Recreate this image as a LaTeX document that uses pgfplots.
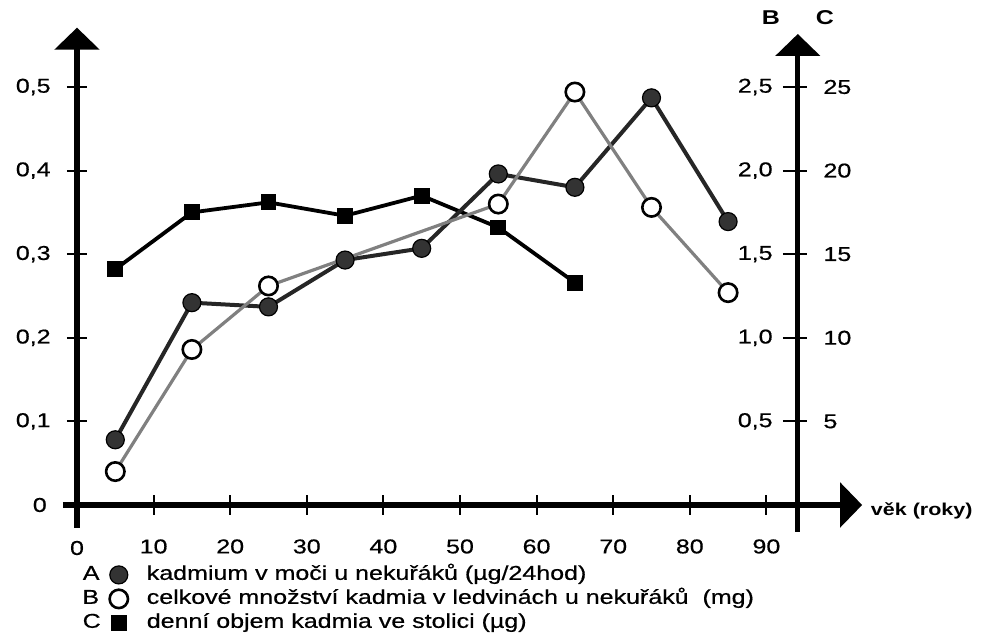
\documentclass[border=0pt]{standalone}
\usepackage{pgfplots}
\pgfplotsset{compat=1.18}
\usepackage{pgfplotstable}
\usepackage{fontspec}
\setmainfont[FakeStretch=1.25, UprightFeatures={FakeBold=0.6}]{Liberation Sans}
\usetikzlibrary{arrows.meta}

\pgfplotstableread{
x y
5 0.078
15 0.242
25 0.237
35 0.293
45 0.307
55 0.396
65 0.380
75 0.487
85 0.339
}\dataA
\pgfplotstableread{
x y
5 0.20
15 0.93
25 1.31
55 1.80
65 2.47
75 1.78
85 1.27
}\dataB
\pgfplotstableread{
x y
5 14.1
15 17.5
25 18.1
35 17.3
45 18.5
55 16.6
65 13.3
}\dataC

\newcommand\lfont{\fontsize{10}{12}\selectfont}
\newcommand\bfont{\fontsize{8.6}{10}\selectfont\bfseries}
\newcommand\bbfont{\fontsize{10}{12}\selectfont\bfseries}
\newcommand\rtick[3]{%
  \draw[line width=1pt] (axis cs:92.15,#1) -- (axis cs:95.3,#1);
  \node[anchor=east, inner sep=0pt, font=\lfont] at (axis cs:90.86,#1) {#2};
  \node[anchor=west, inner sep=0pt, font=\lfont] at (axis cs:97.4,#1) {#3};}

\pgfplotsset{
  styleA/.style={black!85, line width=2pt, mark=*, mark size=4.5pt,
    mark options={fill=black!80, draw=black, line width=0.6pt}},
  styleB/.style={black!50, line width=1.6pt, mark=*, mark size=4.6pt,
    mark options={fill=white, draw=black, line width=1.3pt}},
  styleC/.style={black, line width=1.9pt, mark=square*, mark size=3.7pt,
    mark options={fill=black, draw=black, line width=0.5pt}},
  limg/.style={legend image code/.code={
    \node[text=black, inner sep=0pt, anchor=west, font=\lfont] at (0pt,0pt) {#1};
    \path (31pt,0pt);
    \draw plot coordinates {(19pt,0pt)};}},
}

\begin{document}
\begin{tikzpicture}
\useasboundingbox (-38.5pt,-67.5pt) rectangle (452.5pt,252.5pt);
\begin{axis}[
  at={(0pt,0pt)}, anchor=origin,
  x=3.83pt, y=418pt,
  xmin=-1.83, xmax=102.5, ymin=-0.027, ymax=0.571,
  axis lines=middle,
  clip=false,
  axis line style={line width=2.7pt, -{Triangle[length=11pt,width=22pt]}},
  xtick={0,10,20,30,40,50,60,70,80,90},
  ytick={0,0.1,0.2,0.3,0.4,0.5},
  tick align=center,
  major tick length=10pt,
  tick style={line width=1pt, black},
  ticklabel style={font=\lfont, inner sep=0pt},
  xticklabel style={anchor=north},
  yticklabel style={anchor=east},
  xticklabel shift=12pt,
  yticklabel shift=8pt,
  /pgf/number format/.cd, use comma, 1000 sep={}, assume math mode=true,
  /pgfplots/.cd,
  legend style={at={(axis description cs:0.0238,-0.0709)}, anchor=north west,
    draw=none, fill=none, inner sep=0pt, font=\lfont, row sep=0.5pt,
    nodes={inner sep=1pt, text height=7.2pt, text depth=2.3pt}},
  legend cell align=left,
]
% C: denni objem (ug), 50 per left unit
\addplot[styleC, forget plot] table[x=x, y expr=\thisrow{y}/50] {\dataC};
% A: kadmium v moci (ug/24hod)
\addplot[styleA, forget plot] table[x=x, y=y] {\dataA};
% B: celkove mnozstvi (mg), 5 per left unit
\addplot[styleB, forget plot] table[x=x, y expr=\thisrow{y}/5] {\dataB};

\addlegendimage{styleA, limg=A}
\addlegendimage{styleB, limg=B}
\addlegendimage{styleC, limg=C}
\legend{kadmium v moči u nekuřáků (µg/24hod),
        celkové množství kadmia v ledvinách u nekuřáků\ \ (mg),
        denní objem kadmia ve stolici (µg)}

% zero labels
\node[anchor=east, inner sep=0pt, font=\lfont] at (axis cs:-3.9,0) {0};
\node[anchor=north, inner sep=0pt, font=\lfont] at (axis cs:0,-0.0425) {0};

% right axis (B and C)
\draw[line width=2.6pt, -{Triangle[length=11pt,width=22pt]}]
  (axis cs:94.1,-0.032) -- (axis cs:94.1,0.5634);
\rtick{0.1}{0,5}{5}
\rtick{0.2}{1,0}{10}
\rtick{0.3}{1,5}{15}
\rtick{0.4}{2,0}{20}
\rtick{0.5}{2,5}{25}
\node[font=\bbfont, inner sep=0pt] at (axis cs:90.6,0.5825) {B};
\node[font=\bbfont, inner sep=0pt] at (axis cs:97.65,0.5825) {C};
\node[font=\bfont, anchor=base west, inner sep=0pt] at (axis cs:103.6,-0.012) {věk (roky)};
\end{axis}
\end{tikzpicture}
\end{document}
